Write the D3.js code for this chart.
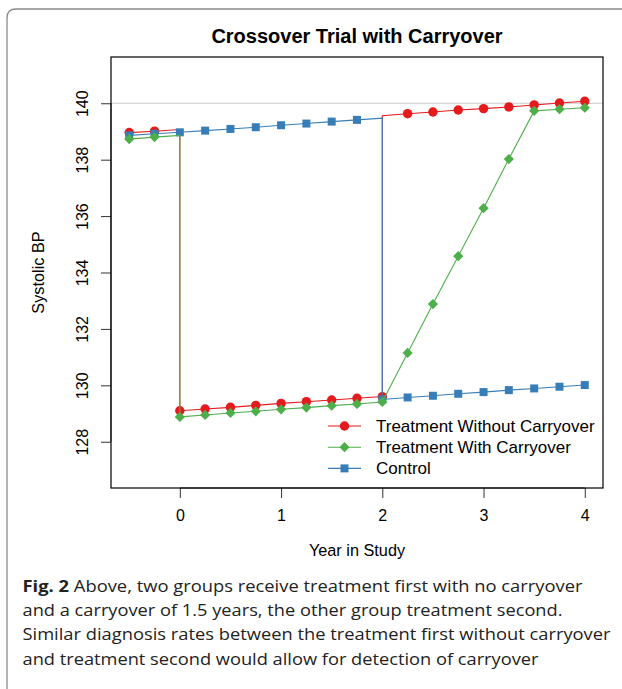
<!DOCTYPE html>
<html><head><meta charset="utf-8">
<script src="https://cdn.jsdelivr.net/npm/d3@7"></script>
<style>body{margin:0;background:#fff} svg{display:block}</style>
</head><body>
<svg id="c" width="622" height="689"></svg>
<script>
// ---------- data ----------
const years = [-0.5,-0.25,0,0.25,0.5,0.75,1,1.25,1.5,1.75,2,2.25,2.5,2.75,3,3.25,3.5,3.75,4];
const noCarryover   = [138.96,139.01,129.10,129.16,129.22,129.29,129.36,129.42,129.48,129.54,129.60,139.63,139.69,139.76,139.81,139.87,139.94,140.01,140.07];
const withCarryover = [138.73,138.80,128.88,128.95,129.02,129.08,129.15,129.21,129.28,129.34,129.41,131.15,132.88,134.58,136.28,138.02,139.73,139.79,139.84];
const control       = [138.86,138.92,138.97,139.03,139.09,139.15,139.22,139.28,139.35,139.41,129.50,129.57,129.63,129.70,129.76,129.83,129.89,129.95,130.01];
// unmarked line vertices at the switch points (value just before / after the marked point)
const noCarryoverSteps   = [{year:0, value:139.07, side:"before"}, {year:2, value:139.56, side:"after"}];
const withCarryoverSteps = [{year:0, value:138.86, side:"before"}];
const controlSteps       = [{year:2, value:139.47, side:"before"}];
const xTicks = [0,1,2,3,4];
const yTicks = [128,130,132,134,136,138,140];
const refValue = 140;
const legendLabels = ["Treatment Without Carryover","Treatment With Carryover","Control"];
const titleText = "Crossover Trial with Carryover";
const xLabel = "Year in Study";
const yLabel = "Systolic BP";
const captionBold = "Fig. 2";
const captionLines = [
  " Above, two groups receive treatment first with no carryover",
  "and a carryover of 1.5 years, the other group treatment second.",
  "Similar diagnosis rates between the treatment first without carryover",
  "and treatment second would allow for detection of carryover"
];

// ---------- layout ----------
const svg = d3.select("#c");
const L = 111, R = 603, T = 57, B = 488;
const x = d3.scaleLinear().domain([-0.68, 4.18]).range([L, R]);
const y = d3.scaleLinear().domain([126.36, 141.64]).range([B, T]);
const font = "'Liberation Sans', Arial, Helvetica, sans-serif";
const colors = {red:"#E41A1C", green:"#4DAF4A", blue:"#377EB8"};

// outer frame with rounded corner
svg.append("path")
  .attr("d", "M7,700 L7,18 Q7,9 16,9 L640,9")
  .attr("fill","none").attr("stroke","#8a8a8a").attr("stroke-width",1.3);

// title
svg.append("text").attr("x",(L+R)/2).attr("y",42.5).attr("text-anchor","middle")
  .attr("font-family",font).attr("font-weight","bold").attr("font-size",20).text(titleText);

// reference line
svg.append("line").attr("x1",L).attr("x2",R).attr("y1",y(refValue)).attr("y2",y(refValue))
  .attr("stroke","#cccccc").attr("stroke-width",1);

// axes
const xAxis = d3.axisBottom(x).tickValues(xTicks).tickSize(10).tickPadding(6).tickFormat(d3.format("d"));
const gx = svg.append("g").attr("transform",`translate(0,${B})`).call(xAxis);
gx.select(".domain").attr("d", `M${x(xTicks[0])},0H${x(xTicks[xTicks.length-1])}`).attr("stroke","#333");
gx.selectAll(".tick line").attr("stroke","#333");
gx.selectAll("text").attr("font-family",font).attr("font-size",16).attr("fill","#000").attr("dy","1.05em");

const yAxis = d3.axisLeft(y).tickValues(yTicks).tickSize(10).tickFormat(d3.format("d"));
const gy = svg.append("g").attr("transform",`translate(${L},0)`).call(yAxis);
gy.select(".domain").attr("d", `M0,${y(yTicks[0])}V${y(yTicks[yTicks.length-1])}`).attr("stroke","#333");
gy.selectAll(".tick line").attr("stroke","#333");
gy.selectAll("text").attr("font-family",font).attr("font-size",16).attr("fill","#000")
  .attr("text-anchor","middle").attr("x",0).attr("dy",0)
  .attr("transform","translate(-23,0) rotate(-90)");

// box
svg.append("rect").attr("x",L).attr("y",T).attr("width",R-L).attr("height",B-T)
  .attr("fill","none").attr("stroke","#000").attr("stroke-width",1.2);

// axis labels
svg.append("text").attr("x",(L+R)/2).attr("y",556).attr("text-anchor","middle")
  .attr("font-family",font).attr("font-size",16.3).text(xLabel);
svg.append("text").attr("transform",`translate(44,${(T+B)/2}) rotate(-90)`).attr("text-anchor","middle")
  .attr("font-family",font).attr("font-size",16.3).text(yLabel);

// series
function buildLine(vals, steps){
  const pts = [];
  years.forEach((yr,i)=>{
    const s = steps.find(d=>d.year===yr);
    if (s && s.side==="before") pts.push([yr, s.value]);
    pts.push([yr, vals[i]]);
    if (s && s.side==="after") pts.push([yr, s.value]);
  });
  return pts;
}
const line = d3.line().x(d=>x(d[0])).y(d=>y(d[1]));
const shapes = {
  circle: d3.symbol().type(d3.symbolCircle).size(70),
  square: d3.symbol().type(d3.symbolSquare).size(64),
  diamond: d3.symbol().type(d3.symbolSquare).size(52)
};
const series = [
  {vals:noCarryover, steps:noCarryoverSteps, color:colors.red, shape:"circle", rot:0},
  {vals:control, steps:controlSteps, color:colors.blue, shape:"square", rot:0},
  {vals:withCarryover, steps:withCarryoverSteps, color:colors.green, shape:"diamond", rot:45}
];
series.forEach(s=>{
  const g = svg.append("g");
  g.append("path").attr("d", line(buildLine(s.vals, s.steps)))
    .attr("fill","none").attr("stroke",s.color).attr("stroke-width",1.1);
  g.selectAll("path.pt").data(years.map((yr,i)=>[yr,s.vals[i]])).join("path").attr("class","pt")
    .attr("d", shapes[s.shape]())
    .attr("transform", d=>`translate(${x(d[0])},${y(d[1])}) rotate(${s.rot})`)
    .attr("fill", s.color);
});

// legend
const legendItems = [
  {label:legendLabels[0], color:colors.red, shape:"circle", rot:0},
  {label:legendLabels[1], color:colors.green, shape:"diamond", rot:45},
  {label:legendLabels[2], color:colors.blue, shape:"square", rot:0}
];
const lg = svg.append("g");
legendItems.forEach((it,i)=>{
  const cy = 426 + i*21.2;
  lg.append("line").attr("x1",328).attr("x2",361).attr("y1",cy).attr("y2",cy)
    .attr("stroke",it.color).attr("stroke-width",1.1);
  lg.append("path").attr("d",shapes[it.shape]()).attr("transform",`translate(344.5,${cy}) rotate(${it.rot})`)
    .attr("fill",it.color);
  lg.append("text").attr("x",376).attr("y",cy+6).attr("font-family",font).attr("font-size",17)
    .text(it.label);
});

// caption
const capFont = "'Open Sans', 'Noto Sans', sans-serif";
const capWidths = [560, 540, 588, 516];
captionLines.forEach((ln,i)=>{
  const t = svg.append("text").attr("x",22.5).attr("y",592 + i*24.2)
    .attr("font-family",capFont).attr("font-size",15.5).attr("fill","#222")
    .attr("textLength",capWidths[i]).attr("lengthAdjust","spacingAndGlyphs");
  if (i===0) t.append("tspan").attr("font-weight","bold").text(captionBold);
  t.append("tspan").text(ln);
});
</script>
</body></html>
